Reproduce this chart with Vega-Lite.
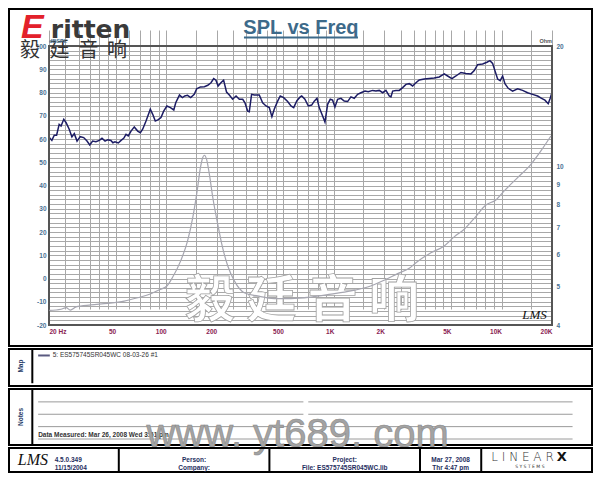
{
  "$schema": "https://vega.github.io/schema/vega-lite/v6.json",
  "padding": {"left": 8, "top": 8, "right": 9, "bottom": 8},
  "background": "white",
  "bounds": "flush",
  "spacing": 3,
  "config": {
    "view": {"stroke": "black", "strokeWidth": 2},
    "font": "Liberation Sans",
    "text": {"baseline": "middle"}
  },
  "vconcat": [
    {
      "width": 583,
      "height": 337,
      "layer": [
        {
          "data": {"values": [
            {"f":20.1,"db":60.6},{"f":20.8,"db":59.4},{"f":21.5,"db":61.6},{"f":22.2,"db":61.6},{"f":23.0,"db":66.3},{"f":23.6,"db":65.6},{"f":24.5,"db":68.5},{"f":25.3,"db":67},{"f":26.4,"db":64.2},{"f":27.4,"db":60.9},{"f":28.3,"db":62.3},{"f":29.4,"db":59.1},{"f":30.7,"db":61},{"f":32.2,"db":60.6},{"f":33.7,"db":59.1},{"f":35.0,"db":57.4},{"f":36.4,"db":59.1},{"f":38.1,"db":58.8},{"f":39.9,"db":59.4},{"f":41.4,"db":60.3},{"f":43.2,"db":59.1},{"f":44.8,"db":59.7},{"f":46.8,"db":59.4},{"f":48.1,"db":58.4},{"f":49.5,"db":58.8},{"f":51.8,"db":58.3},{"f":53.8,"db":59.4},{"f":55.8,"db":60.3},{"f":57.6,"db":62},{"f":59.4,"db":61.3},{"f":61.7,"db":63.4},{"f":64.5,"db":65.2},{"f":67.6,"db":63.4},{"f":70.1,"db":62.7},{"f":72.4,"db":64.2},{"f":75.8,"db":67.7},{"f":80.4,"db":72.8},{"f":83.1,"db":70.6},{"f":86.1,"db":67.7},{"f":89.7,"db":68.3},{"f":93.1,"db":69.2},{"f":96.6,"db":72},{"f":101,"db":74.2},{"f":106,"db":73.5},{"f":111,"db":72.5},{"f":114,"db":75.6},{"f":120,"db":78.9},{"f":125,"db":77.8},{"f":129,"db":78.5},{"f":134,"db":78.8},{"f":140,"db":77.8},{"f":147,"db":79.2},{"f":152,"db":81.6},{"f":160,"db":82.4},{"f":169,"db":82.5},{"f":177,"db":83.1},{"f":185,"db":84.2},{"f":192,"db":86},{"f":198,"db":85.3},{"f":204,"db":82.8},{"f":212,"db":84.2},{"f":220,"db":85.3},{"f":229,"db":80.2},{"f":238,"db":78.9},{"f":249,"db":77.1},{"f":261,"db":78.5},{"f":273,"db":77.1},{"f":286,"db":77.1},{"f":295,"db":75.6},{"f":306,"db":72},{"f":313,"db":71.7},{"f":323,"db":79.2},{"f":335,"db":78.9},{"f":359,"db":78.9},{"f":376,"db":75.6},{"f":394,"db":74.2},{"f":412,"db":73.5},{"f":427,"db":69.6},{"f":441,"db":72.8},{"f":462,"db":76.3},{"f":479,"db":78.5},{"f":502,"db":77.8},{"f":530,"db":76.1},{"f":555,"db":74.2},{"f":576,"db":73.5},{"f":602,"db":76.5},{"f":630,"db":78.1},{"f":643,"db":78.5},{"f":672,"db":77.1},{"f":704,"db":74.2},{"f":737,"db":74.6},{"f":764,"db":76.3},{"f":793,"db":77.5},{"f":818,"db":73.5},{"f":857,"db":69.9},{"f":885,"db":67.3},{"f":918,"db":74.9},{"f":952,"db":77.1},{"f":983,"db":76.7},{"f":1015,"db":73.8},{"f":1053,"db":77.1},{"f":1102,"db":77.5},{"f":1153,"db":76.3},{"f":1208,"db":76.1},{"f":1264,"db":78.1},{"f":1323,"db":77.5},{"f":1386,"db":79.2},{"f":1450,"db":79.9},{"f":1533,"db":80.6},{"f":1603,"db":80.3},{"f":1703,"db":80.9},{"f":1782,"db":80.6},{"f":1865,"db":80.9},{"f":1954,"db":79.9},{"f":2044,"db":80.9},{"f":2139,"db":78.5},{"f":2190,"db":78.1},{"f":2242,"db":80.6},{"f":2346,"db":80.9},{"f":2455,"db":80.9},{"f":2572,"db":82.1},{"f":2691,"db":83.5},{"f":2816,"db":83.8},{"f":2950,"db":82.8},{"f":3087,"db":84.2},{"f":3230,"db":85.4},{"f":3460,"db":85.8},{"f":3705,"db":86},{"f":3968,"db":86.2},{"f":4251,"db":86.7},{"f":4553,"db":88},{"f":4770,"db":87.1},{"f":5060,"db":86},{"f":5346,"db":87.1},{"f":5726,"db":88.6},{"f":6134,"db":88.2},{"f":6570,"db":88},{"f":6875,"db":89.4},{"f":7203,"db":92},{"f":7715,"db":92.3},{"f":8185,"db":93},{"f":8528,"db":93.7},{"f":8850,"db":92.5},{"f":9133,"db":89.4},{"f":9478,"db":85.8},{"f":9822,"db":85.1},{"f":10152,"db":87.1},{"f":10480,"db":83.8},{"f":10966,"db":81.8},{"f":11642,"db":80.6},{"f":12472,"db":81.6},{"f":13357,"db":80.9},{"f":14306,"db":79.9},{"f":15324,"db":79.2},{"f":16412,"db":78.5},{"f":17340,"db":77.5},{"f":18146,"db":76.7},{"f":18982,"db":75.2},{"f":19512,"db":77.5},{"f":19973,"db":79.9}
          ]},
          "mark": {"type": "line", "strokeWidth": 1.5, "color": "#1c1c64"},
          "encoding": {
            "x": {
              "field": "f", "type": "quantitative",
              "scale": {"type": "log", "domain": [20, 20000], "range": [40, 543], "nice": false},
              "axis": {
                "orient": "bottom", "offset": -21, "title": null, "domain": false, "ticks": false,
                "values": [20,25,30,35,40,45,50,60,70,80,90,100,150,200,250,300,350,400,450,500,600,700,800,900,1000,1500,2000,2500,3000,3500,4000,4500,5000,6000,7000,8000,9000,10000,15000,20000],
                "labelExpr": "indexof([20,50,100,200,500,1000,2000,5000,10000,20000], datum.value) < 0 ? '' : datum.value == 20 ? '20  Hz' : datum.value >= 1000 ? (datum.value/1000) + 'K' : '' + datum.value",
                "labelAlign": {"condition": {"test": "datum.value == 20", "value": "left"}, "value": "right"},
                "labelFlush": false, "labelOverlap": false,
                "labelColor": "#8a2252", "labelFont": "Liberation Sans Narrow, Liberation Sans, sans-serif", "labelFontSize": 6.5, "labelFontWeight": "bold", "labelPadding": 3,
                "grid": true, "gridColor": "#a8a8a8", "gridWidth": 1
              }
            },
            "y": {
              "field": "db", "type": "quantitative",
              "scale": {"domain": [-20, 100], "range": [316, 37], "nice": false, "zero": false},
              "axis": {
                "orient": "left", "offset": -40, "title": null, "domain": false, "ticks": false,
                "values": [-20,-18,-16,-14,-12,-10,-8,-6,-4,-2,0,2,4,6,8,10,12,14,16,18,20,22,24,26,28,30,32,34,36,38,40,42,44,46,48,50,52,54,56,58,60,62,64,66,68,70,72,74,76,78,80,82,84,86,88,90,92,94,96,98,100],
                "labelExpr": "datum.value % 10 == 0 ? '' + datum.value : ''",
                "labelOverlap": false,
                "labelColor": "#4a7294", "labelFont": "Liberation Sans Narrow, Liberation Sans, sans-serif", "labelFontSize": 6.5, "labelFontWeight": "bold", "labelPadding": 3,
                "grid": true, "gridColor": "#a8a8a8", "gridWidth": 1
              }
            }
          }
        },
        {
          "data": {"values": [{}]},
          "layer": [
            {
              "mark": {"type": "rect", "fill": "transparent", "stroke": "#555555", "strokeWidth": 2},
              "encoding": {
                "x": {"datum": 20, "scale": {"type": "log", "domain": [20, 20000], "range": [40, 543], "nice": false}, "axis": null},
                "x2": {"datum": 20000},
                "y": {"datum": -20, "scale": {"domain": [-20, 100], "range": [316, 37], "nice": false, "zero": false}, "axis": null},
                "y2": {"datum": 100}
              }
            },
            {
              "mark": {"type": "text", "text": "毅 廷 音 响", "font": "Noto Sans CJK SC", "fontSize": 50, "fontWeight": "bold", "fill": "white", "stroke": "#a2a2a2", "strokeWidth": 0.8, "align": "center", "baseline": "middle"},
              "encoding": {"x": {"datum": 645, "axis": null}, "y": {"datum": -10.1, "axis": null}}
            },
            {
              "mark": {"type": "text", "text": "SPL vs Freq", "font": "Liberation Sans", "fontSize": 20, "fontWeight": "bold", "color": "#3d6a8a", "align": "center", "baseline": "alphabetic"},
              "encoding": {"x": {"datum": 636, "axis": null}, "y": {"datum": 105.2, "axis": null}}
            },
            {
              "mark": {"type": "rule", "color": "#3d6a8a", "strokeWidth": 2},
              "encoding": {"x": {"datum": 291, "axis": null}, "x2": {"datum": 1392}, "y": {"datum": 103.7, "axis": null}}
            },
            {
              "mark": {"type": "text", "text": "E", "font": "Liberation Sans", "fontSize": 34, "fontWeight": "bold", "fontStyle": "italic", "color": "#e3212b", "align": "left", "baseline": "alphabetic"},
              "encoding": {"x": {"datum": 13.6, "axis": null}, "y": {"datum": 103.4, "axis": null}}
            },
            {
              "mark": {"type": "text", "text": "ritten", "font": "DejaVu Sans", "fontSize": 25, "fontWeight": "bold", "color": "#3a3a3a", "align": "left", "baseline": "alphabetic"},
              "encoding": {"x": {"datum": 20.5, "axis": null}, "y": {"datum": 103.4, "axis": null}}
            },
            {
              "mark": {"type": "text", "text": "毅", "font": "Noto Sans CJK SC", "fontSize": 20, "color": "#333333", "align": "center", "baseline": "middle"},
              "encoding": {"x": {"datum": 15.4, "axis": null}, "y": {"datum": 97.85, "axis": null}}
            },
            {
              "mark": {"type": "text", "text": "廷", "font": "Noto Sans CJK SC", "fontSize": 20, "color": "#333333", "align": "center", "baseline": "middle"},
              "encoding": {"x": {"datum": 23.1, "axis": null}, "y": {"datum": 97.85, "axis": null}}
            },
            {
              "mark": {"type": "text", "text": "音", "font": "Noto Sans CJK SC", "fontSize": 20, "color": "#333333", "align": "center", "baseline": "middle"},
              "encoding": {"x": {"datum": 34.4, "axis": null}, "y": {"datum": 97.85, "axis": null}}
            },
            {
              "mark": {"type": "text", "text": "响", "font": "Noto Sans CJK SC", "fontSize": 20, "color": "#333333", "align": "center", "baseline": "middle"},
              "encoding": {"x": {"datum": 50.9, "axis": null}, "y": {"datum": 97.85, "axis": null}}
            },
            {
              "mark": {"type": "text", "text": "dBSPL", "fontSize": 5.5, "fontWeight": "bold", "color": "#4a7294", "align": "left", "baseline": "alphabetic"},
              "encoding": {"x": {"datum": 20, "axis": null}, "y": {"datum": 101.3, "axis": null}}
            },
            {
              "mark": {"type": "text", "text": "Ohm", "fontSize": 5.5, "fontWeight": "bold", "color": "#555555", "align": "right", "baseline": "alphabetic"},
              "encoding": {"x": {"datum": 20000, "axis": null}, "y": {"datum": 101.3, "axis": null}}
            },
            {
              "mark": {"type": "text", "text": "LMS", "font": "Liberation Serif", "fontSize": 13, "fontStyle": "italic", "color": "#111111", "align": "right", "baseline": "alphabetic"},
              "encoding": {"x": {"datum": 18635, "axis": null}, "y": {"datum": -17.4, "axis": null}}
            }
          ]
        },
        {
          "data": {"values": [
            {"f":20.1,"ohm":4.35},{"f":23.6,"ohm":4.38},{"f":25.3,"ohm":4.42},{"f":26.8,"ohm":4.36},{"f":29.0,"ohm":4.44},{"f":35.6,"ohm":4.49},{"f":44.8,"ohm":4.53},{"f":56.2,"ohm":4.59},{"f":67.6,"ohm":4.68},{"f":81.1,"ohm":4.79},{"f":90.9,"ohm":4.90},{"f":101,"ohm":5.01},{"f":109,"ohm":5.26},{"f":122,"ohm":5.79},{"f":134,"ohm":6.49},{"f":144,"ohm":7.43},{"f":153,"ohm":8.67},{"f":160,"ohm":9.91},{"f":165,"ohm":10.5},{"f":169,"ohm":10.65},{"f":174,"ohm":10.41},{"f":181,"ohm":9.54},{"f":189,"ohm":8.42},{"f":203,"ohm":7.15},{"f":217,"ohm":6.25},{"f":233,"ohm":5.62},{"f":255,"ohm":5.16},{"f":292,"ohm":4.82},{"f":351,"ohm":4.73},{"f":441,"ohm":4.66},{"f":555,"ohm":4.66},{"f":730,"ohm":4.70},{"f":961,"ohm":4.78},{"f":1264,"ohm":4.87},{"f":1590,"ohm":4.98},{"f":1997,"ohm":5.18},{"f":2400,"ohm":5.38},{"f":2816,"ohm":5.55},{"f":3087,"ohm":5.73},{"f":3792,"ohm":6.07},{"f":4553,"ohm":6.31},{"f":5222,"ohm":6.65},{"f":5992,"ohm":6.95},{"f":6875,"ohm":7.40},{"f":8070,"ohm":7.99},{"f":9260,"ohm":8.23},{"f":10376,"ohm":8.67},{"f":12472,"ohm":9.36},{"f":14972,"ohm":10.11},{"f":17174,"ohm":10.92},{"f":19698,"ohm":11.9}
          ]},
          "mark": {"type": "line", "color": "#a6a6b0", "strokeWidth": 1.2, "interpolate": "monotone"},
          "encoding": {
            "x": {"field": "f", "type": "quantitative", "scale": {"type": "log", "domain": [20, 20000], "range": [40, 543], "nice": false}, "axis": null},
            "y": {
              "field": "ohm", "type": "quantitative",
              "scale": {"type": "log", "domain": [4, 20], "range": [316, 37], "nice": false},
              "axis": {
                "orient": "right", "offset": -40, "title": null, "domain": false, "ticks": false, "grid": false,
                "values": [4,5,6,7,8,9,10,20],
                "labelColor": "#4a7294", "labelFont": "Liberation Sans Narrow, Liberation Sans, sans-serif", "labelFontSize": 6.5, "labelFontWeight": "bold", "labelPadding": 4, "labelOverlap": false
              }
            }
          }
        }
      ],
      "resolve": {"scale": {"x": "independent", "y": "independent"}}
    },
    {
      "width": 583, "height": 37,
      "data": {"values": [{}]},
      "layer": [
        {
          "mark": {"type": "rule", "color": "black", "strokeWidth": 2},
          "encoding": {
            "x": {"datum": 24, "scale": {"domain": [0, 583], "range": [0, 583]}, "axis": null},
            "y": {"datum": 0, "scale": {"domain": [0, 37], "range": [0, 37]}, "axis": null},
            "y2": {"datum": 37}
          }
        },
        {
          "mark": {"type": "text", "text": "Map", "angle": 270, "fontSize": 6.5, "fontWeight": "bold", "color": "#1f3a66"},
          "encoding": {"x": {"datum": 12, "axis": null}, "y": {"datum": 18.5, "axis": null}}
        },
        {
          "mark": {"type": "rule", "color": "#5a5a80", "strokeWidth": 2},
          "encoding": {"x": {"datum": 30, "axis": null}, "x2": {"datum": 42}, "y": {"datum": 7, "axis": null}}
        },
        {
          "mark": {"type": "text", "text": "5: ES575745SR045WC   08-03-26    #1", "font": "Liberation Sans Narrow, Liberation Sans, sans-serif", "fontSize": 6.5, "color": "#333333", "align": "left"},
          "encoding": {"x": {"datum": 45, "axis": null}, "y": {"datum": 7, "axis": null}}
        }
      ]
    },
    {
      "width": 583, "height": 56,
      "layer": [
        {
          "data": {"values": [{}]},
          "mark": {"type": "rule", "color": "black", "strokeWidth": 2},
          "encoding": {
            "x": {"datum": 24, "scale": {"domain": [0, 583], "range": [0, 583]}, "axis": null},
            "y": {"datum": -0.04, "scale": {"domain": [0, 4], "range": [0.5, 50]}, "axis": null},
            "y2": {"datum": 4.49}
          }
        },
        {
          "data": {"values": [{}]},
          "mark": {"type": "text", "text": "Notes", "angle": 270, "fontSize": 6.5, "fontWeight": "bold", "color": "#1f3a66"},
          "encoding": {"x": {"datum": 12, "axis": null}, "y": {"datum": 2.22, "axis": null}}
        },
        {
          "data": {"values": [{"line": 1}, {"line": 2}, {"line": 3}, {"line": 4}]},
          "mark": {"type": "rule", "color": "#9a9a9a", "strokeWidth": 1},
          "encoding": {
            "y": {"field": "line", "type": "quantitative", "axis": null},
            "x": {"datum": 30, "axis": null},
            "x2": {"datum": 303}
          }
        },
        {
          "data": {"values": [{"line": 1}, {"line": 2}, {"line": 3}, {"line": 4}]},
          "mark": {"type": "rule", "color": "#9a9a9a", "strokeWidth": 1},
          "encoding": {
            "y": {"field": "line", "type": "quantitative", "axis": null},
            "x": {"datum": 308, "axis": null},
            "x2": {"datum": 580}
          }
        },
        {
          "data": {"values": [{}]},
          "mark": {"type": "text", "text": "Data Measured: Mar 26, 2008   Wed   3:51 pm", "font": "Liberation Sans Narrow, Liberation Sans, sans-serif", "fontSize": 6.5, "fontWeight": "bold", "color": "#333333", "align": "left", "baseline": "middle"},
          "encoding": {"x": {"datum": 30, "axis": null}, "y": {"datum": 3.68, "axis": null}}
        },
        {
          "data": {"values": [{}]},
          "mark": {"type": "text", "text": "www. yt689. com", "font": "Liberation Sans", "fontSize": 40, "fill": "#a3a3a3", "stroke": "#8a8a8a", "strokeWidth": 0.6, "align": "center", "baseline": "alphabetic"},
          "encoding": {"x": {"datum": 297, "axis": null}, "y": {"datum": 4.65, "axis": null}}
        }
      ]
    },
    {
      "width": 583, "height": 24,
      "data": {"values": [{}]},
      "layer": [
        {
          "data": {"values": [{"cell": 113}, {"cell": 268}, {"cell": 423}, {"cell": 486}]},
          "mark": {"type": "rule", "color": "black", "strokeWidth": 2},
          "encoding": {
            "x": {"field": "cell", "type": "quantitative", "scale": {"domain": [0, 583], "range": [0, 583]}, "axis": null},
            "y": {"datum": 0, "scale": {"domain": [0, 24], "range": [0, 24]}, "axis": null},
            "y2": {"datum": 24}
          }
        },
        {
          "mark": {"type": "text", "text": "LMS", "font": "Liberation Serif", "fontSize": 16, "fontStyle": "italic", "color": "#111111", "align": "left"},
          "encoding": {"x": {"datum": 9, "axis": null}, "y": {"datum": 12, "axis": null}}
        },
        {
          "mark": {"type": "text", "text": ["4.5.0.349", "11/15/2004"], "font": "Liberation Sans Narrow, Liberation Sans, sans-serif", "fontSize": 6.5, "fontWeight": "bold", "color": "#1f2f5f", "lineHeight": 8, "align": "left"},
          "encoding": {"x": {"datum": 47, "axis": null}, "y": {"datum": 12, "axis": null}}
        },
        {
          "mark": {"type": "text", "text": ["Person:", "Company:"], "font": "Liberation Sans Narrow, Liberation Sans, sans-serif", "fontSize": 6.5, "fontWeight": "bold", "color": "#1f2f5f", "lineHeight": 8, "align": "center"},
          "encoding": {"x": {"datum": 190.5, "axis": null}, "y": {"datum": 12, "axis": null}}
        },
        {
          "mark": {"type": "text", "text": ["Project:", "File: ES575745SR045WC.lib"], "font": "Liberation Sans Narrow, Liberation Sans, sans-serif", "fontSize": 6.5, "fontWeight": "bold", "color": "#1f2f5f", "lineHeight": 8, "align": "center"},
          "encoding": {"x": {"datum": 345.5, "axis": null}, "y": {"datum": 12, "axis": null}}
        },
        {
          "mark": {"type": "text", "text": ["Mar 27, 2008", "Thr  4:47 pm"], "font": "Liberation Sans Narrow, Liberation Sans, sans-serif", "fontSize": 6.5, "fontWeight": "bold", "color": "#1f2f5f", "lineHeight": 8, "align": "center"},
          "encoding": {"x": {"datum": 454.5, "axis": null}, "y": {"datum": 12, "axis": null}}
        },
        {
          "mark": {"type": "text", "text": "L I N E A R", "font": "DejaVu Sans", "fontSize": 12, "fontWeight": 300, "color": "#333333", "align": "center"},
          "encoding": {"x": {"datum": 528.5, "axis": null}, "y": {"datum": 9, "axis": null}}
        },
        {
          "mark": {"type": "text", "text": "X", "font": "DejaVu Sans", "fontSize": 13, "fontWeight": "bold", "color": "#111111", "align": "center"},
          "encoding": {"x": {"datum": 569, "axis": null}, "y": {"datum": 9, "axis": null}}
        },
        {
          "mark": {"type": "text", "text": "S   Y   S   T   E   M   S", "font": "DejaVu Sans", "fontSize": 4.5, "color": "#333333", "align": "center"},
          "encoding": {"x": {"datum": 536, "axis": null}, "y": {"datum": 19, "axis": null}}
        }
      ]
    }
  ]
}
